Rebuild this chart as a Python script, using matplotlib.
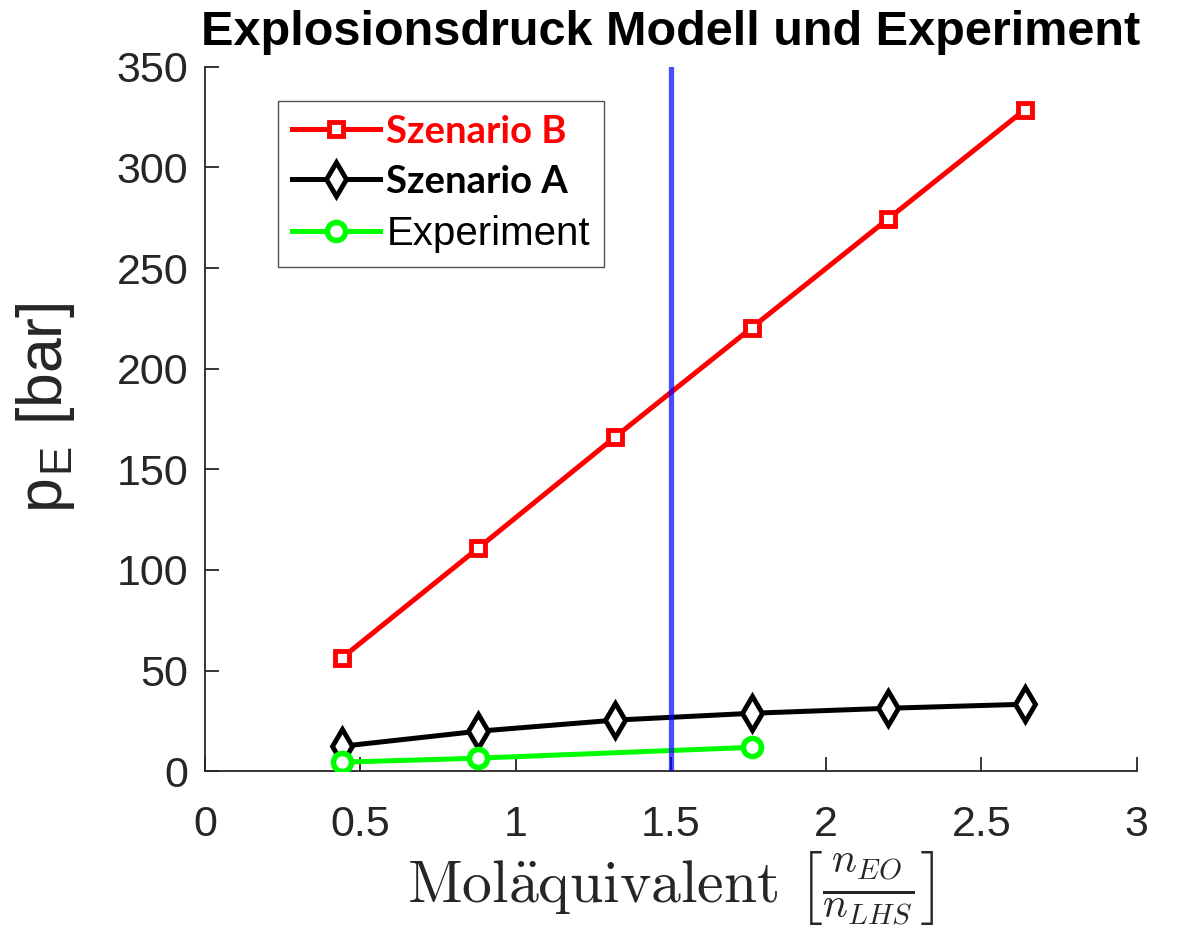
import matplotlib
matplotlib.use('Agg')
import matplotlib.pyplot as plt

# values
x_modell = [0.44, 0.88, 1.32, 1.76, 2.2, 2.64]
p_szenario_b = [56.2, 110.9, 166.0, 220.3, 274.5, 328.7]
p_szenario_a = [12.4, 19.9, 25.4, 28.8, 31.3, 33.3]
x_exp = [0.44, 0.88, 1.76]
p_exp = [4.5, 6.5, 11.9]
x_grenze = 1.5
xticks = [0, 0.5, 1, 1.5, 2, 2.5, 3]
yticks = [0, 50, 100, 150, 200, 250, 300, 350]

plt.rcParams['font.family'] = ['Liberation Sans', 'DejaVu Sans']
plt.rcParams['mathtext.fontset'] = 'cm'

fig = plt.figure(figsize=(11.78, 9.27), dpi=100)
ax = fig.add_axes([0.174, 0.168, 0.791, 0.760])

ax.plot(x_modell, p_szenario_b, '-s', color='red', lw=3.6, ms=9.5, mew=3.5,
        mfc='white', label='Szenario B', zorder=3)
ax.plot(x_modell, p_szenario_a, '-d', color='black', lw=3.6, ms=17, mew=3.5,
        mfc='white', label='Szenario A', zorder=3)
ax.plot(x_exp, p_exp, '-o', color='#00ff00', lw=3.6, ms=13, mew=4,
        mfc='white', label='Experiment', zorder=3)
ax.axvline(x_grenze, color='blue', alpha=0.7, lw=3.8, zorder=4)

ax.set_xlim(0, 3)
ax.set_ylim(0, 350)
ax.set_xticks(xticks)
ax.set_xticklabels(['0', '0.5', '1', '1.5', '2', '2.5', '3'])
ax.set_yticks(yticks)
for s in ['top', 'right']:
    ax.spines[s].set_visible(False)
for s in ['left', 'bottom']:
    ax.spines[s].set_color('#262626')
    ax.spines[s].set_linewidth(1.3)
ax.tick_params(direction='in', length=10, width=1.3, colors='#262626',
               labelsize=31, pad=12)
ax.tick_params(axis='x', pad=24)

ax.set_title('Explosionsdruck Modell und Experiment', fontsize=35,
             fontweight='bold', pad=16)
ax.set_ylabel(r'p$_\mathregular{E}$ [bar]', fontsize=45, color='#262626')
ax.yaxis.set_label_coords(-0.137, 0.516)
ax.set_xlabel(r'$\mathrm{Mol\ddot{a}quivalent}\ \left[\frac{n_{EO}}{n_{LHS}}\right]$',
              fontsize=43, color='#262626', labelpad=4)

leg = ax.legend(loc='upper left', bbox_to_anchor=(0.078, 0.952), fontsize=29,
                frameon=True, fancybox=False, edgecolor='#262626',
                handlelength=2.2, borderpad=0.35, labelspacing=0.4,
                handletextpad=0.15, borderaxespad=0)
leg.set_zorder(5)
leg.get_frame().set_linewidth(1.0)
txts = leg.get_texts()
txts[0].set_color('red')
for t in txts[:2]:
    t.set_family(['Lato', 'DejaVu Sans'])
    t.set_fontweight('bold')
    t.set_fontsize(27.5)

fig.savefig('out.png', dpi=100)
